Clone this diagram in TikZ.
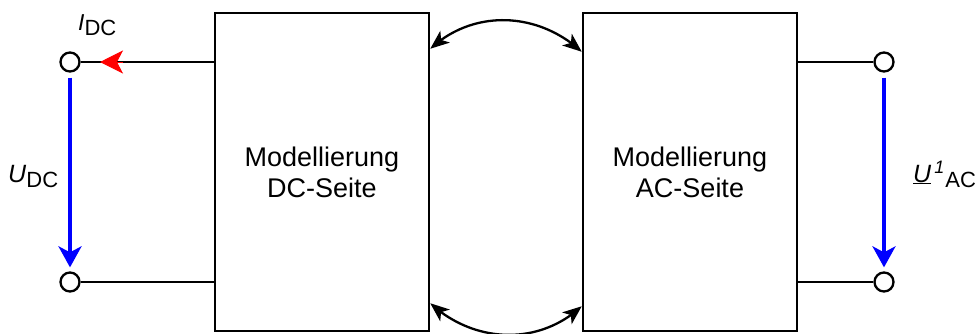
\documentclass[tikz,border=0pt]{standalone}
\usepackage{fontspec}
\setmainfont{Liberation Sans}
\usetikzlibrary{arrows.meta,calc,bending}

\begin{document}
\begin{tikzpicture}[x=1pt,y=-1pt,
  block/.style={draw, line width=2.5pt, minimum width=214pt, minimum height=318pt,
    inner sep=0pt, align=center, font=\fontsize{27}{31}\selectfont},
  terminal/.style={circle, draw, line width=2.3pt, fill=white, minimum size=19pt, inner sep=0pt},
  wire/.style={line width=2.2pt},
  voltarrow/.style={draw=blue, line width=3.5pt,
    -{Stealth[length=21pt,width=23pt,inset=6pt]}},
  currenthead/.style={draw=red, fill=red, line width=1pt,
    -{Stealth[length=23pt,width=23pt,inset=6pt]}},
  link/.style={line width=2.3pt,
    {Stealth[length=19pt,width=15pt,inset=5pt]}-{Stealth[length=19pt,width=15pt,inset=5pt]}},
  lbl/.style={anchor=base west, inner sep=0pt}
]
\useasboundingbox (0,0) rectangle (978,333);

% model blocks
\node[block] (dcbox) at (322,172) {Modellierung\\DC-Seite};
\node[block] (acbox) at (690,172) {Modellierung\\AC-Seite};

% terminals
\node[terminal] (tl) at (70,62) {};
\node[terminal] (bl) at (70,282) {};
\node[terminal] (tr) at (884,62) {};
\node[terminal] (br) at (884,282) {};

% wires between blocks and terminals
\draw[wire] (dcbox.west |- tl) -- (tl);
\draw[wire] (dcbox.west |- bl) -- (bl);
\draw[wire] (acbox.east |- tr) -- (tr);
\draw[wire] (acbox.east |- br) -- (br);

% DC current arrow head on the upper wire
\coordinate (itail) at ($(tl)+(53,0)$);
\coordinate (itip) at ($(tl)+(30,0)$);
\draw[currenthead] (itail) -- (itip);

% voltage arrows
\draw[voltarrow, shorten <=5pt, shorten >=4pt] (tl) -- (bl);
\draw[voltarrow, shorten <=5pt, shorten >=4pt] (tr) -- (br);

% coupling between the two models
\coordinate (dcT) at ($(dcbox.north east)+(0,37)$);
\coordinate (acT) at ($(acbox.north west)+(0,40)$);
\coordinate (dcB) at ($(dcbox.south east)+(0,-29)$);
\coordinate (acB) at ($(acbox.south west)+(0,-26)$);
\draw[link] (dcT) .. controls +(43.6,-40.1) and +(-43.6,-40.1) .. (acT);
\draw[link] (dcB) .. controls +(43.6,40.1) and +(-43.6,40.1) .. (acB);

% labels
\node[lbl] (ilabel) at (78,30)
  {\fontsize{23}{23}\selectfont\textit{I}\raisebox{-5pt}{\fontsize{22}{22}\selectfont DC}};
\node[lbl] (udclabel) at (8,182)
  {\fontsize{25}{25}\selectfont\textit{U}\raisebox{-5pt}{\fontsize{22}{22}\selectfont DC}};
\node[lbl] (uaclabel) at (913,182)
  {\fontsize{25}{25}\selectfont\underline{\textit{U}}\kern3pt\raisebox{9pt}{\fontsize{18}{18}\selectfont\textit{1}}\kern1pt\raisebox{-5pt}{\fontsize{22}{22}\selectfont AC}};
\end{tikzpicture}
\end{document}
